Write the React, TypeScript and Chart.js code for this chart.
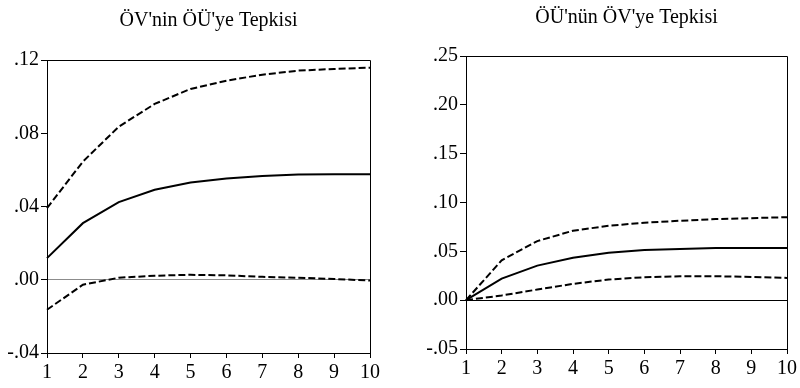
import React, { useEffect, useRef } from "react";
import { Chart, registerables } from "chart.js";

Chart.register(...registerables);

const periods = ["1", "2", "3", "4", "5", "6", "7", "8", "9", "10"];

const leftTitle = "ÖV'nin ÖÜ'ye Tepkisi";
const leftResponse = [0.0118, 0.0309, 0.0424, 0.0491, 0.0531, 0.0553, 0.0567, 0.0575, 0.0576, 0.0576];
const leftUpper = [0.0391, 0.0645, 0.0836, 0.096, 0.1042, 0.1087, 0.112, 0.1142, 0.1151, 0.1158];
const leftLower = [-0.0164, -0.0027, 0.0011, 0.0022, 0.0027, 0.0024, 0.0016, 0.0011, 0.0004, -0.0004];
const leftTicks = { min: -0.04, max: 0.12, step: 0.04 };

const rightTitle = "ÖÜ'nün ÖV'ye Tepkisi";
const rightResponse = [0, 0.0221, 0.0354, 0.0435, 0.0486, 0.0514, 0.0524, 0.0534, 0.0534, 0.0534];
const rightUpper = [0, 0.0408, 0.0605, 0.0711, 0.0762, 0.0793, 0.0813, 0.083, 0.084, 0.085];
const rightLower = [0, 0.0048, 0.0109, 0.0167, 0.0211, 0.0235, 0.0245, 0.0245, 0.0238, 0.0228];
const rightTicks = { min: -0.05, max: 0.25, step: 0.05 };

const FONT = "'Liberation Serif', 'Times New Roman', serif";

function fmt(v: number): string {
  const r = Math.round(v * 100) / 100;
  const s = Math.abs(r).toFixed(2).replace(/^0/, "");
  return r < 0 ? "-" + s : s;
}

const boxPlugin = {
  id: "box",
  afterDraw(chart: any) {
    const { ctx, chartArea } = chart;
    ctx.save();
    ctx.strokeStyle = "#000";
    ctx.lineWidth = 1;
    ctx.beginPath();
    ctx.moveTo(chartArea.left, chartArea.top + 0.5);
    ctx.lineTo(chartArea.right + 0.5, chartArea.top + 0.5);
    ctx.lineTo(chartArea.right + 0.5, chartArea.bottom);
    ctx.stroke();
    ctx.restore();
  },
};

interface PanelProps {
  title: string;
  response: number[];
  upper: number[];
  lower: number[];
  ticks: { min: number; max: number; step: number };
  zeroColor: string;
  yWidth: number;
  padRight: number;
  xHeight: number;
  titleTop: number;
  titleBottom: number;
}

function Panel(p: PanelProps) {
  const ref = useRef<HTMLCanvasElement | null>(null);
  useEffect(() => {
    if (!ref.current) return;
    const dashed = (data: number[]) => ({
      data,
      borderColor: "#000",
      borderWidth: 2,
      borderDash: [7, 3],
      pointRadius: 0,
      fill: false,
      tension: 0,
    });
    const chart = new Chart(ref.current, {
      type: "line",
      data: {
        labels: periods,
        datasets: [
          dashed(p.upper),
          { data: p.response, borderColor: "#000", borderWidth: 2, pointRadius: 0, fill: false, tension: 0 },
          dashed(p.lower),
        ],
      },
      options: {
        responsive: false,
        animation: false,
        devicePixelRatio: 1,
        layout: { padding: { left: 0, right: p.padRight, top: 0, bottom: 0 } },
        plugins: {
          legend: { display: false },
          tooltip: { enabled: false },
          title: {
            display: true,
            fullSize: false,
            text: p.title,
            color: "#000",
            font: { family: FONT, size: 20, weight: "normal", lineHeight: 1.2 },
            padding: { top: p.titleTop, bottom: p.titleBottom },
          },
        },
        scales: {
          x: {
            type: "category",
            offset: false,
            afterFit: (s: any) => {
              s.height = p.xHeight;
            },
            grid: { display: true, drawOnChartArea: false, drawTicks: true, tickLength: 5, color: "#000", tickColor: "#000" },
            border: { display: true, color: "#000", width: 1 },
            ticks: { color: "#000", font: { family: FONT, size: 20 }, padding: 3, maxRotation: 0, autoSkip: false },
          },
          y: {
            type: "linear",
            min: p.ticks.min,
            max: p.ticks.max,
            afterFit: (s: any) => {
              s.width = p.yWidth;
            },
            grid: {
              display: true,
              drawOnChartArea: true,
              drawTicks: true,
              tickLength: 6,
              color: (c: any) => (c.tick && Math.abs(c.tick.value) < 1e-9 ? p.zeroColor : "rgba(0,0,0,0)"),
              tickColor: "#000",
            },
            border: { display: true, color: "#000", width: 1 },
            ticks: {
              stepSize: p.ticks.step,
              color: "#000",
              font: { family: FONT, size: 20 },
              padding: 2,
              callback: (v: any) => fmt(Number(v)),
            },
          },
        },
      },
      plugins: [boxPlugin],
    } as any);
    return () => chart.destroy();
  }, []);
  return <canvas ref={ref} width={400} height={388} style={{ display: "block", width: 400, height: 388 }} />;
}

export default function App() {
  return (
    <div style={{ position: "fixed", left: 0, top: 0, width: 800, height: 388, background: "#fff", display: "flex" }}>
      <Panel
        title={leftTitle}
        response={leftResponse}
        upper={leftUpper}
        lower={leftLower}
        ticks={leftTicks}
        zeroColor="#8c8c8c"
        yWidth={47}
        padRight={30}
        xHeight={35}
        titleTop={9}
        titleBottom={27}
      />
      <Panel
        title={rightTitle}
        response={rightResponse}
        upper={rightUpper}
        lower={rightLower}
        ticks={rightTicks}
        zeroColor="#000"
        yWidth={66}
        padRight={11}
        xHeight={39}
        titleTop={6}
        titleBottom={26}
      />
    </div>
  );
}
